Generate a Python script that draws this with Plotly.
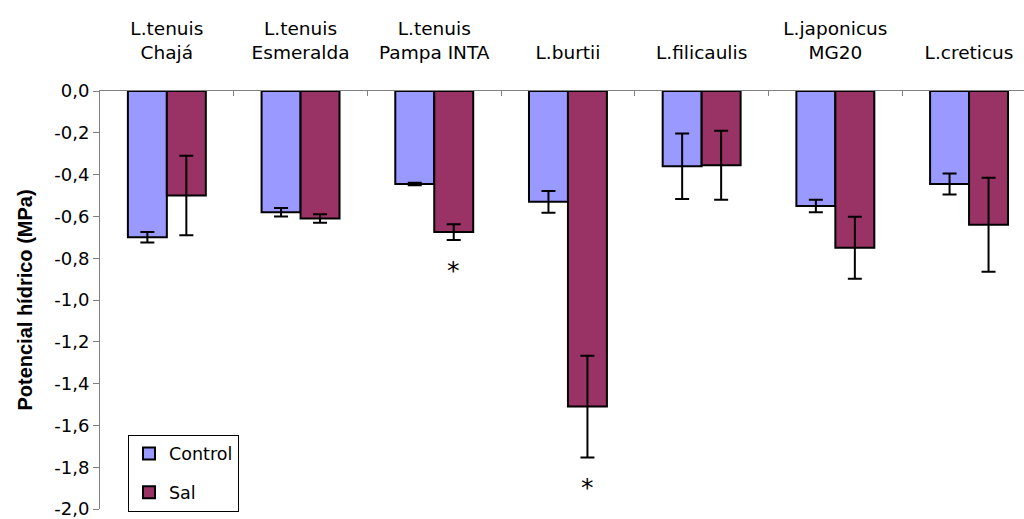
import plotly.graph_objects as go

# Water potential (MPa) of Lotus genotypes under control and salt treatments
categories = [
    "L.tenuis<br>Chajá",
    "L.tenuis<br>Esmeralda",
    "L.tenuis<br>Pampa INTA",
    "L.burtii",
    "L.filicaulis",
    "L.japonicus<br>MG20",
    "L.creticus",
]
control = [-0.70, -0.58, -0.445, -0.53, -0.36, -0.55, -0.445]
control_err = [0.025, 0.02, 0.006, 0.052, 0.157, 0.03, 0.05]
sal = [-0.50, -0.61, -0.675, -1.51, -0.355, -0.75, -0.64]
sal_err = [0.19, 0.02, 0.038, 0.243, 0.165, 0.148, 0.225]
significance = ["", "", "*", "*", "", "", ""]

y_ticks = [0.0, -0.2, -0.4, -0.6, -0.8, -1.0, -1.2, -1.4, -1.6, -1.8, -2.0]
y_ticktext = [f"{v:.1f}".replace(".", ",") for v in y_ticks]

label_font = "DejaVu Sans"

fig = go.Figure()
fig.add_trace(go.Bar(
    name="Control", x=categories, y=control,
    marker=dict(color="#9999FF", line=dict(color="black", width=2)),
    error_y=dict(type="data", array=control_err, color="black", thickness=2, width=7),
    legendgroup="c",
))
fig.add_trace(go.Bar(
    name="Sal", x=categories, y=sal,
    marker=dict(color="#993366", line=dict(color="black", width=2)),
    error_y=dict(type="data", array=sal_err, color="black", thickness=2, width=7),
    legendgroup="s",
))

# significance marks below the salt bars
for cat, v, e, s in zip(categories, sal, sal_err, significance):
    if s:
        fig.add_annotation(
            x=cat, y=v - e, text=s, showarrow=False,
            xanchor="center", yanchor="top", xshift=19.5, yshift=-14,
            font=dict(family=label_font, size=25, color="black"),
        )

fig.update_layout(
    width=1024, height=519,
    margin=dict(l=100, r=0, t=91, b=10, pad=0),
    paper_bgcolor="white", plot_bgcolor="white",
    barmode="group", bargap=0.417, bargroupgap=0,
    font=dict(family=label_font, size=18, color="black"),
    showlegend=True,
    legend=dict(
        x=0.0303, y=0.178, xanchor="left", yanchor="top",
        bordercolor="black", borderwidth=1, bgcolor="white",
        font=dict(family=label_font, size=17.5, color="black"),
        traceorder="grouped", tracegroupgap=13, itemwidth=30,
    ),
    xaxis=dict(
        side="top", type="category", range=[-0.5, 6.411],
        showline=True, linecolor="#808080", linewidth=1,
        ticks="inside", tickson="boundaries", ticklen=5, tickcolor="#808080",
        tickfont=dict(family=label_font, size=18.5, color="black"),
        ticklabelstandoff=24, automargin=False,
        showgrid=False, zeroline=False,
    ),
    yaxis=dict(
        range=[-2.0, 0.0], tickvals=y_ticks, ticktext=y_ticktext,
        showline=True, linecolor="#808080", linewidth=1,
        ticks="outside", ticklen=6, tickcolor="#808080",
        tickfont=dict(family=label_font, size=18, color="black"),
        ticklabeloverflow="allow", automargin=False,
        showgrid=False, zeroline=False,
        title=dict(text="Potencial hídrico (MPa)", standoff=16,
                   font=dict(family="Liberation Sans", size=20, color="black", weight="bold")),
    ),
)

fig.write_html("out.html")
